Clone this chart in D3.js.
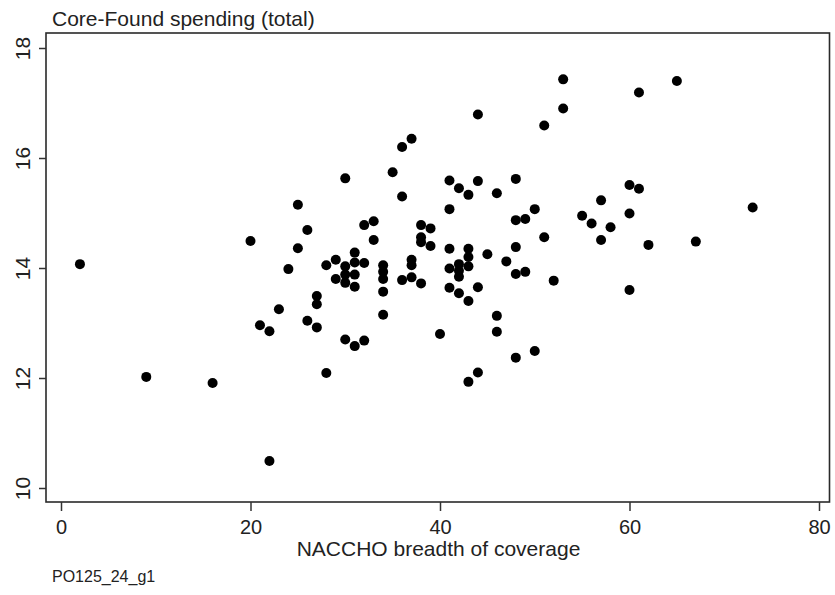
<!DOCTYPE html>
<html lang="en">
<head>
    <meta charset="UTF-8">
    <title>Core-Found spending</title>
    <script src="https://d3js.org/d3.v7.min.js"></script>
    <style>
        body { margin: 0; background: #fff; }
        text { font-family: "Liberation Sans", Arial, sans-serif; fill: #222; }
    </style>
</head>
<body>
<script>

    const width = 835;
    const height = 595;

    // NACCHO breadth of coverage
    const coverage = [
        2, 9, 16, 20, 21, 22, 22, 23, 24, 25, 25, 26, 26, 27, 27, 27, 28, 28, 29, 29,
        30, 30, 30, 30, 30, 31, 31, 31, 31, 31, 32, 32, 32, 33, 33, 34, 34, 34, 34, 34,
        35, 36, 36, 36, 37, 37, 37, 37, 38, 38, 38, 38, 39, 39, 40, 41, 41, 41, 41, 41,
        42, 42, 42, 42, 42, 43, 43, 43, 43, 43, 43, 44, 44, 44, 44, 45, 46, 46, 46, 47,
        48, 48, 48, 48, 48, 49, 49, 50, 50, 51, 51, 52, 53, 53, 55, 56, 57, 57, 58, 60,
        60, 60, 61, 61, 62, 65, 67, 73
    ];

    // Core-Found spending (total)
    const spending = [
        14.07, 12.02, 11.91, 14.49, 12.96, 12.85, 10.49, 13.25, 13.98, 15.15, 14.36, 14.69, 13.04, 13.49, 13.34, 12.92, 14.05, 12.09, 14.15, 13.80,
        15.63, 14.03, 13.88, 13.73, 12.70, 14.28, 14.10, 13.88, 13.66, 12.58, 14.78, 14.09, 12.68, 14.85, 14.51, 14.05, 13.93, 13.80, 13.57, 13.15,
        15.74, 16.20, 15.30, 13.78, 16.35, 14.15, 14.05, 13.83, 14.78, 14.56, 14.47, 13.72, 14.72, 14.40, 12.80, 15.59, 15.07, 14.35, 13.99, 13.64,
        15.45, 14.07, 13.95, 13.84, 13.54, 15.33, 14.35, 14.20, 14.03, 13.40, 11.93, 16.79, 15.58, 13.65, 12.10, 14.25, 15.36, 13.13, 12.84, 14.12,
        15.62, 14.87, 14.38, 13.89, 12.37, 14.89, 13.93, 15.07, 12.49, 16.59, 14.56, 13.77, 17.43, 16.90, 14.95, 14.81, 15.23, 14.51, 14.74, 15.51,
        14.99, 13.60, 17.19, 15.44, 14.42, 17.40, 14.48, 15.10
    ];

    const xTicks = [0, 20, 40, 60, 80];
    const yTicks = [10, 12, 14, 16, 18];

    const frame = {left: 46, top: 33, right: 829.5, bottom: 502};

    const x = d3.scaleLinear().domain([0, 80]).range([61, 819]);
    const y = d3.scaleLinear().domain([10, 18]).range([488, 48]);

    const svg = d3.select("body").append("svg")
        .attr("width", width)
        .attr("height", height);

    svg.append("rect")
        .attr("width", width)
        .attr("height", height)
        .attr("fill", "#fff");

    // points first, frame on top
    svg.append("g")
        .selectAll("circle")
        .data(coverage)
        .join("circle")
        .attr("cx", d => x(d))
        .attr("cy", (d, i) => y(spending[i]))
        .attr("r", 5)
        .attr("fill", "#000");

    svg.append("rect")
        .attr("x", frame.left)
        .attr("y", frame.top)
        .attr("width", frame.right - frame.left)
        .attr("height", frame.bottom - frame.top)
        .attr("fill", "none")
        .attr("stroke", "#2a2a2a")
        .attr("stroke-width", 1.6);

    // x axis
    const xAxis = d3.axisBottom(x).tickValues(xTicks).tickSize(9).tickPadding(9);
    const gx = svg.append("g")
        .attr("transform", `translate(0,${frame.bottom})`)
        .call(xAxis);
    gx.select(".domain").remove();
    gx.selectAll("line").attr("stroke", "#333").attr("stroke-width", 1.5);
    gx.selectAll("text").attr("font-size", 20).attr("fill", "#222");

    // y axis, labels turned
    const yAxis = d3.axisLeft(y).tickValues(yTicks).tickSize(7).tickPadding(0);
    const gy = svg.append("g")
        .attr("transform", `translate(${frame.left},0)`)
        .call(yAxis);
    gy.select(".domain").remove();
    gy.selectAll("line").attr("stroke", "#333").attr("stroke-width", 1.5);
    gy.selectAll("text")
        .attr("font-size", 21)
        .attr("fill", "#222")
        .attr("x", null)
        .attr("dy", null)
        .attr("text-anchor", "middle")
        .attr("transform", "translate(-16,0) rotate(-90)");

    svg.append("text")
        .attr("x", 52)
        .attr("y", 26)
        .attr("font-size", 21)
        .text("Core-Found spending (total)");

    svg.append("text")
        .attr("x", (293 + 584) / 2)
        .attr("y", 556)
        .attr("text-anchor", "middle")
        .attr("font-size", 21)
        .text("NACCHO breadth of coverage");

    svg.append("text")
        .attr("x", 52)
        .attr("y", 582)
        .attr("font-size", 16)
        .text("PO125_24_g1");

</script>
</body>
</html>
